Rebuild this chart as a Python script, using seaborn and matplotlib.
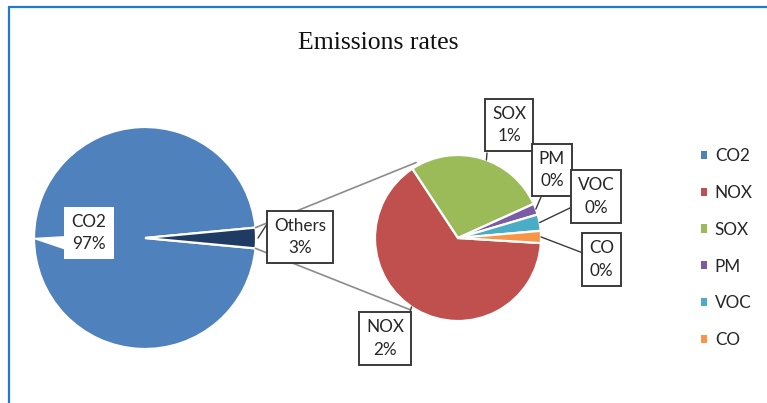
import numpy as np
import matplotlib
matplotlib.use("Agg")
import matplotlib.pyplot as plt
import seaborn as sns
from matplotlib.patches import Patch, Polygon
from matplotlib.lines import Line2D

# ---------------- data ----------------
categories = ["CO2", "NOX", "SOX", "PM", "VOC", "CO"]
co2_value = 97.0
other_names = ["NOX", "SOX", "PM", "VOC", "CO"]
other_values = [1.93, 0.82, 0.065, 0.095, 0.07]
others_label = "Others"
title_text = "Emissions rates"

palette = sns.color_palette(["#4F81BD", "#C0504D", "#9BBB59", "#7A5BA6", "#4BACC6", "#F79646"])
others_color = "#1F3B63"

# ---------------- figure ----------------
sns.set_theme(style="white")
plt.rcParams["font.family"] = ["Lato", "DejaVu Sans"]

W, H = 767, 403
fig = plt.figure(figsize=(W / 100, H / 100), dpi=100)
ax = fig.add_axes([0, 0, 1, 1])


def Y(y):
    return H - y


total = co2_value + sum(other_values)
others_total = sum(other_values)

# main pie
main_center = (145, Y(238))
main_r = 111
others_angle = 360.0 * others_total / total
main_w, _ = ax.pie([co2_value, others_total], colors=[palette[0], others_color],
                   startangle=others_angle / 2, center=main_center, radius=main_r,
                   explode=[0, 0.025],
                   wedgeprops=dict(edgecolor="white", linewidth=1.6))

# secondary pie
sec_center = (458, Y(238))
sec_r = 83
sec_w, _ = ax.pie(other_values, colors=list(palette[1:]), startangle=-3.5,
                  counterclock=False, center=sec_center, radius=sec_r,
                  explode=[0, 0, 0.02, 0.02, 0.02],
                  wedgeprops=dict(edgecolor="white", linewidth=1.6))

ax.set_xlim(0, W)
ax.set_ylim(0, H)
ax.set_aspect("equal")
ax.axis("off")


def arc_point(w, frac=0.5, rscale=1.0):
    ang = np.deg2rad(w.theta1 + (w.theta2 - w.theta1) * frac)
    cx, cy = w.center
    return cx + w.r * rscale * np.cos(ang), cy + w.r * rscale * np.sin(ang)


def circ_point(center, r, ang_deg):
    a = np.deg2rad(ang_deg)
    return center[0] + r * np.cos(a), center[1] + r * np.sin(a)


# connector lines between the pies
ow = main_w[1]
p_top = arc_point(ow, 1.0)
p_bot = arc_point(ow, 0.0)
q_top = circ_point(sec_center, sec_r * 1.04, 119)
q_bot = circ_point(sec_center, sec_r * 1.04, 236)
for p, q in [(p_top, q_top), (p_bot, q_bot)]:
    ax.plot([p[0], q[0]], [p[1], q[1]], color="#8C8C8C", lw=1.2, zorder=1)

box_kw = dict(boxstyle="square,pad=0.42", fc="white", ec="#3A3A3A", lw=1.4)
fs = 12.3


def label(x, y, text, zorder=5, **bb):
    kw = dict(box_kw)
    kw.update(bb)
    ax.text(x, Y(y), text, ha="center", va="center", multialignment="center",
            fontsize=fs, color="#262626", linespacing=1.5, bbox=kw, zorder=zorder)


def pct(v):
    return f"{v / total * 100:.0f}%"


# CO2 callout (white bubble without border)
tip = circ_point(main_center, main_r * 1.03, 180)
ax.add_patch(Polygon([tip, (66, Y(236)), (66, Y(250))], closed=True,
                     fc="white", ec="none", zorder=4))
label(89, 233, f"CO2\n{pct(co2_value)}", ec="none")

# Others
om = arc_point(ow, 0.5)
ax.plot([om[0] + 2, 267], [om[1], Y(224)], color="#3A3A3A", lw=1.0, zorder=4)
label(300, 237, f"{others_label}\n{pct(others_total)}")

# secondary labels
sec_boxes = {"NOX": (385, 338.5), "SOX": (509, 125), "PM": (552, 170),
             "VOC": (596, 196.5), "CO": (601.5, 259.5)}
leader_ends = {"NOX": (410, 312), "SOX": (487, 153), "PM": (541, 197),
               "VOC": (572, 207), "CO": (583, 253)}
for w, name, v in zip(sec_w, other_names, other_values):
    a = arc_point(w, 0.5, 1.0)
    if name == "SOX":
        a = circ_point(w.center, w.r, 70)
    if name == "NOX":
        a = circ_point(w.center, w.r, 236)
    e = leader_ends[name]
    ax.plot([a[0], e[0]], [a[1], Y(e[1])], color="#3A3A3A", lw=1.0, zorder=4)
    bx, by = sec_boxes[name]
    label(bx, by, f"{name}\n{pct(v)}")

# title
ax.text(378, Y(49), title_text, ha="center", va="baseline", fontsize=18.5,
        family=["Liberation Serif", "DejaVu Serif"], color="#111111")

# legend
handles = [Patch(facecolor=c, edgecolor="none") for c in palette]
leg = fig.legend(handles, categories, loc="upper left", bbox_to_anchor=(701 / W, 1 - 148 / H),
                 frameon=False, fontsize=fs, handlelength=0.36, handleheight=0.36,
                 handletextpad=0.45, labelspacing=1.22, borderaxespad=0, borderpad=0)
for t in leg.get_texts():
    t.set_color("#262626")

# outer border (blue)
fig.add_artist(Line2D([9 / W, 9 / W], [0, 1 - 7 / H], color="#1F7AD0", lw=1.6,
                      transform=fig.transFigure))
fig.add_artist(Line2D([9 / W, 1], [1 - 7 / H, 1 - 7 / H], color="#1F7AD0", lw=1.6,
                      transform=fig.transFigure))

fig.savefig("out.png", dpi=100, facecolor="white")
